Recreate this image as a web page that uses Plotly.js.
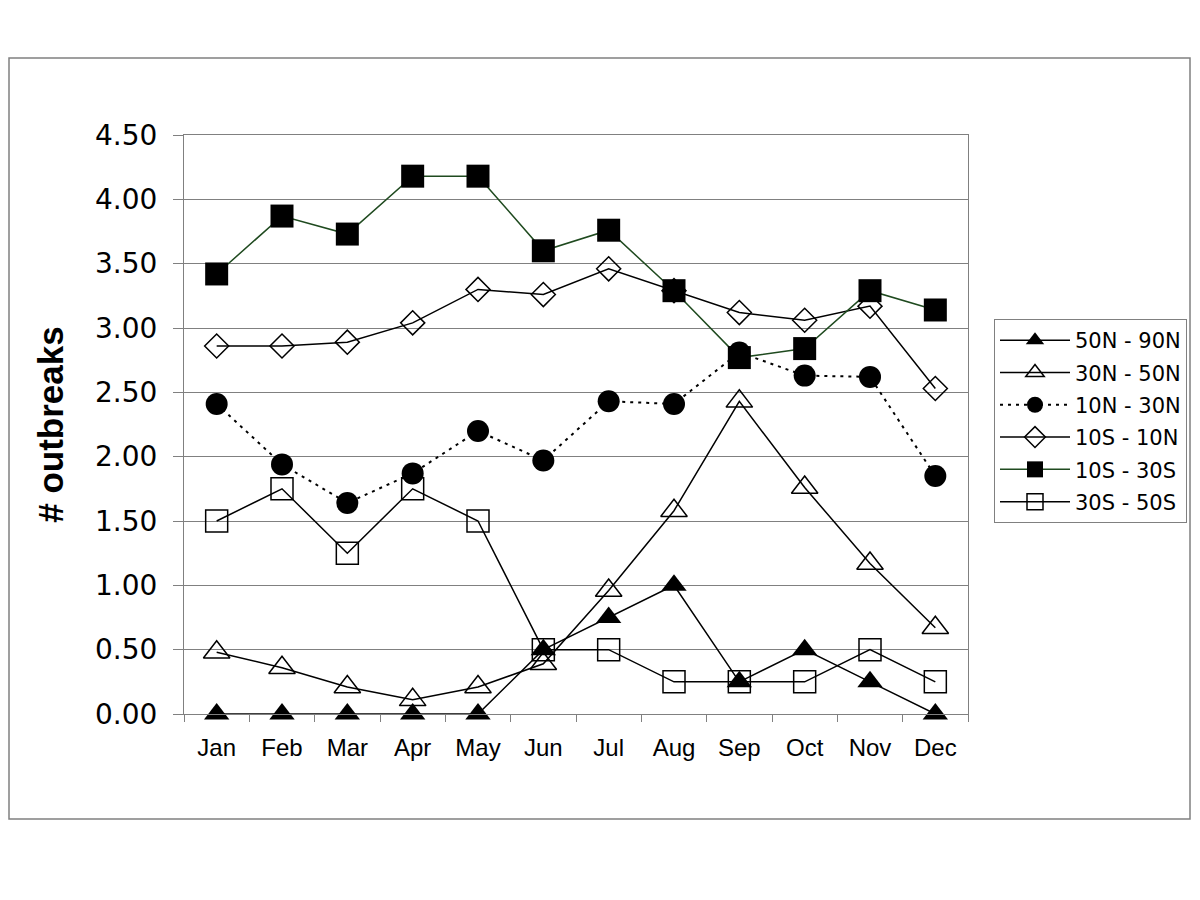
<!DOCTYPE html>
<html>
<head>
<meta charset="utf-8">
<script src="https://cdn.plot.ly/plotly-3.0.1.min.js"></script>
<style>
html,body{margin:0;padding:0;background:#fff;}
#chart{width:1200px;height:900px;}
</style>
</head>
<body>
<div id="chart"></div>
<script>
const months = ["Jan","Feb","Mar","Apr","May","Jun","Jul","Aug","Sep","Oct","Nov","Dec"];
const yTickVals = [0,0.5,1,1.5,2,2.5,3,3.5,4,4.5];
const yTickText = ["0.00","0.50","1.00","1.50","2.00","2.50","3.00","3.50","4.00","4.50"];

const names = ["50N - 90N","30N - 50N","10N - 30N","10S - 10N","10S - 30S","30S - 50S"];
const s50N90N = [0,0,0,0,0,0.50,0.75,1.00,0.25,0.50,0.25,0];
const s30N50N = [0.48,0.36,0.21,0.11,0.21,0.39,0.96,1.58,2.43,1.76,1.17,0.67];
const s10N30N = [2.41,1.94,1.64,1.87,2.20,1.97,2.43,2.41,2.81,2.63,2.62,1.85];
const s10S10N = [2.86,2.86,2.89,3.04,3.30,3.26,3.46,3.29,3.12,3.06,3.17,2.53];
const s10S30S = [3.42,3.87,3.73,4.18,4.18,3.60,3.76,3.29,2.77,2.84,3.29,3.14];
const s30S50S = [1.50,1.75,1.25,1.75,1.50,0.50,0.50,0.25,0.25,0.25,0.50,0.25];

const seriesData = [s50N90N,s30N50N,s10N30N,s10S10N,s10S30S,s30S50S];
const styles = [
  {symbol:"triangle-up", size:22, lineColor:"#000", dash:"solid", mline:0},
  {symbol:"triangle-up-open", size:23, lineColor:"#000", dash:"solid", mline:1.5},
  {symbol:"circle", size:22, lineColor:"#000", dash:"3px,5px", mline:0},
  {symbol:"diamond-open", size:18.5, lineColor:"#000", dash:"solid", mline:1.5},
  {symbol:"square", size:23, lineColor:"#1f4a1f", dash:"solid", mline:0},
  {symbol:"square-open", size:22, lineColor:"#000", dash:"solid", mline:1.5}
];

const traces = seriesData.map((vals,i)=>({
  type:"scatter",
  mode:"lines+markers",
  name:names[i],
  legendgroup:"g"+i,
  x:months,
  y:vals,
  cliponaxis:false,
  line:{color:styles[i].lineColor, width:styles[i].dash==="solid"?1.5:2, dash:styles[i].dash},
  marker:{symbol:styles[i].symbol, size:styles[i].size, color:"#000", line:{color:"#000", width:styles[i].mline}}
}));

const L=184, R=968, T=135, B=714;
const W=R-L, H=B-T;
const px = v => (v-L)/W;
const py = v => (B-v)/H;

const layout = {
  width:1200, height:900,
  margin:{l:L, r:1200-R, t:T, b:900-B, pad:0},
  paper_bgcolor:"#fff",
  plot_bgcolor:"#fff",
  showlegend:true,
  legend:{
    x:px(994), y:py(319), xanchor:"left", yanchor:"top",
    bgcolor:"#fff", bordercolor:"#808080", borderwidth:1,
    font:{family:"DejaVu Sans", size:21, color:"#000"},
    itemwidth:70, traceorder:"grouped", tracegroupgap:2
  },
  xaxis:{
    type:"category", range:[-0.5,11.5],
    showline:true, mirror:true, linecolor:"#808080", linewidth:1,
    showgrid:false, zeroline:false,
    ticks:"outside", ticklen:7, tickcolor:"#808080", tickson:"boundaries",
    tickfont:{family:"Liberation Sans, Arial", size:24, color:"#000"},
    ticklabelstandoff:12
  },
  yaxis:{
    range:[0,4.5], tickvals:yTickVals, ticktext:yTickText,
    showline:true, mirror:true, linecolor:"#808080", linewidth:1,
    showgrid:true, gridcolor:"#808080", gridwidth:1, zeroline:false,
    ticks:"outside", ticklen:10, tickcolor:"#808080",
    tickfont:{family:"DejaVu Sans", size:28, color:"#000"},
    ticklabelstandoff:10,
    title:{text:"# outbreaks", font:{family:"Liberation Sans, Arial", size:35, color:"#000", weight:"bold"}, standoff:20}
  },
  shapes:[{
    type:"rect", xref:"paper", yref:"paper",
    x0:px(9), x1:px(1190), y0:py(819), y1:py(58),
    line:{color:"#808080", width:1.5}, fillcolor:"rgba(0,0,0,0)", layer:"below"
  }]
};

Plotly.newPlot("chart", traces, layout, {staticPlot:true, displayModeBar:false});
</script>
</body>
</html>
